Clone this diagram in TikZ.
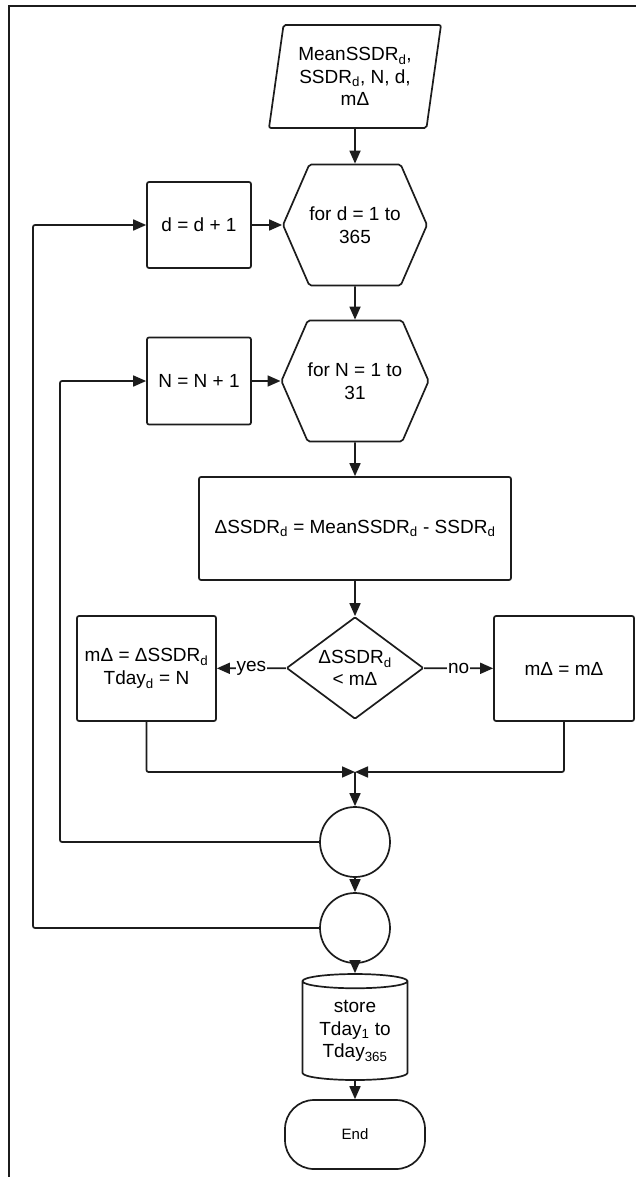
\documentclass[tikz,border=0pt]{standalone}
\usepackage{fontspec}
\setmainfont{Liberation Sans}
\usetikzlibrary{positioning,shapes.geometric,shapes.symbols,shapes.misc,
                arrows.meta,calc}
\definecolor{ink}{HTML}{1C1C1C}
\newcommand{\dsub}{\textsubscript{d}}
\tikzset{
  >={Triangle[length=13pt,width=11pt]},
  every node/.style={font=\fontsize{19}{22.5}\selectfont},
  % --- nodes
  mod/.style   = {draw=ink, line width=1.7pt, align=center, inner sep=0pt, fill=white},
  proc/.style  = {mod, rectangle, rounded corners=2pt},
  io/.style    = {mod, trapezium, trapezium left angle=76, trapezium right angle=104,
                  trapezium stretches body, rounded corners=2pt},
  hexa/.style  = {mod, signal, signal to=west and east, signal pointer angle=133,
                  rounded corners=2pt},
  dec/.style   = {mod, diamond, aspect=1.34, rounded corners=1pt},
  conn/.style  = {mod, circle, minimum size=70pt},
  store/.style = {mod, cylinder, shape border rotate=90, aspect=0.2},
  term/.style  = {mod, rectangle, rounded corners=29pt},
  lbl/.style   = {fill=white, inner sep=1pt},
  % --- edges
  e/.style     = {->, line width=1.7pt, draw=ink},
  eloop/.style = {e, rounded corners=2pt},
}
\begin{document}
\begin{tikzpicture}[x=1pt,y=-1pt]
  \useasboundingbox (0,0) rectangle (636,1177);
  \draw[line width=1.7pt, draw=ink] (9,1177) -- (9,6) -- (636,6);
  % --- main column
  \node[io, minimum width=172pt, minimum height=103pt] (in) at (355,76.5)
    {MeanSSDR\dsub,\\SSDR\dsub, N, d,\\mΔ};
  \node[hexa, minimum width=137pt, minimum height=121pt] (fd) at (355,225) {for d = 1 to\\365};
  \node[proc, minimum width=104pt, minimum height=86pt] (incd) at (199,225) {d = d + 1};
  \node[hexa, minimum width=137pt, minimum height=121pt] (fn) at (355,381) {for N = 1 to\\31};
  \node[proc, minimum width=104pt, minimum height=87pt] (incn) at (199,381) {N = N + 1};
  \node[proc, minimum width=312pt, minimum height=103pt] (diff) at (355,528.5)
    {ΔSSDR\dsub{} = MeanSSDR\dsub{} - SSDR\dsub};
  \node[dec, minimum width=137pt, minimum height=102pt] (cmp) at (355,668) {ΔSSDR\dsub\\< mΔ};
  \node[proc, minimum width=139pt, minimum height=105pt] (yes) at (146.5,668.5)
    {mΔ = ΔSSDR\dsub\\Tday\dsub{} = N};
  \node[proc, minimum width=140pt, minimum height=105pt] (no) at (564,668.5) {mΔ = mΔ};
  \coordinate (join) at (355,772);
  \node[conn] (c1) at (355,842) {};
  \node[conn] (c2) at (355,928) {};
  \node[store, minimum width=105pt, minimum height=106pt] (keep) at (355,1031)
    {store\\Tday\textsubscript{1} to\\Tday\textsubscript{365}};
  \node[term, minimum width=140pt, minimum height=69pt, font=\fontsize{15}{18}\selectfont]
    (fin) at (355,1134.5) {End};
  \coordinate (nloop) at (60,381);
  \coordinate (dloop) at (33,225);
  % --- edges
  \draw[e] (in) -- (fd);
  \draw[e] (incd) -- (fd);
  \draw[e] (fd) -- (fn);
  \draw[e] (incn) -- (fn);
  \draw[e] (fn) -- (diff);
  \draw[e] (diff) -- (cmp);
  \draw[e] (cmp) -- node[lbl] {yes} (yes);
  \draw[e] (cmp) -- node[lbl] {no} (no);
  \draw[eloop] (yes.south) |- (join);
  \draw[eloop] (no.south) |- (join);
  \draw[e] (join) -- (c1);
  \draw[e] (c1) -- (c2);
  \draw[e] (c2) -- (keep);
  \draw[e] (keep) -- (fin);
  \draw[eloop] (c1.west) -| (nloop) -- (incn.west);
  \draw[eloop] (c2.west) -| (dloop) -- (incd.west);
\end{tikzpicture}
\end{document}
